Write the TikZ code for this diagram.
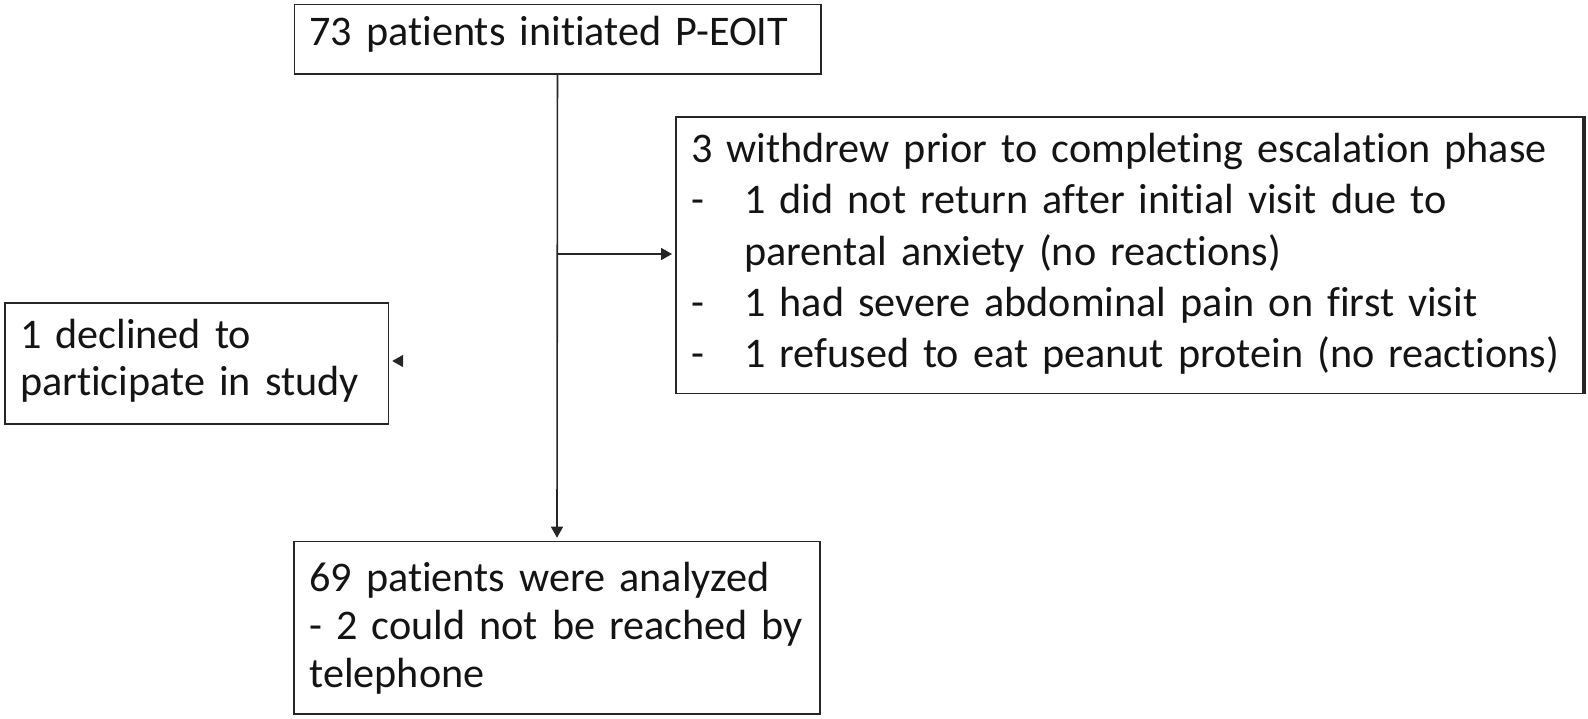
\documentclass[tikz,border=0pt]{standalone}
\usepackage{fontspec}
\setmainfont{Carlito}[Ligatures=NoCommon]
\usepackage{tikz}
\usetikzlibrary{arrows.meta,positioning}

\newcommand{\dashitem}{\makebox[26.6pt][l]{-}}

\begin{document}
\begin{tikzpicture}[x=.5pt,y=-.5pt,
  box/.style={draw=black!85,line width=.8pt,anchor=north west,align=left,
    inner ysep=0pt,inner xsep=7.6pt,text=black!92},
  conn/.style={draw=black!85,line width=.8pt,-{Triangle[length=5.5pt,width=6pt]},shorten >=1.5pt}]
\useasboundingbox (0,0) rectangle (1588,718);
%
% boxes
\node[box,text width=248pt,text height=20.75pt,text depth=14pt,
  font=\fontsize{21.1}{25}\selectfont] (start) at (293.5,3.5)
  {73 patients initiated P-EOIT};
\node[box,text width=438.3pt,text height=22.85pt,text depth=115.5pt,
  font=\fontsize{21.1}{25.65}\selectfont] (withdrew) at (675,116)
  {3 withdrew prior to completing escalation phase\\
   \dashitem 1 did not return after initial visit due to\\
   \hspace*{26.6pt}parental anxiety (no reactions)\\
   \dashitem 1 had severe abdominal pain on first visit\\
   \dashitem 1 refused to eat peanut protein (no reactions)};
\node[box,text width=176.6pt,text height=22.7pt,text depth=37.8pt,
  font=\fontsize{21.1}{23.65}\selectfont] (declined) at (4,302.3)
  {1 declined to\\participate in study};
\node[box,text width=247.6pt,text height=25pt,text depth=61.3pt,
  font=\fontsize{21.1}{24}\selectfont] (analyzed) at (293.3,540.7)
  {69 patients were analyzed\\- 2 could not be reached by\\telephone};
% heavier right edge
\draw[black!85,line width=1pt] ([xshift=.9pt]withdrew.north east) -- ([xshift=.9pt]withdrew.south east);
%
% connectors
\coordinate (split) at (start.south |- 0,254);
\coordinate (stub) at (402,361);
\draw[conn] (start) -- (analyzed);
\draw[conn] (split) -- (withdrew.west |- split);
\draw[conn] (stub) -- (declined.east |- stub);
\end{tikzpicture}
\end{document}
